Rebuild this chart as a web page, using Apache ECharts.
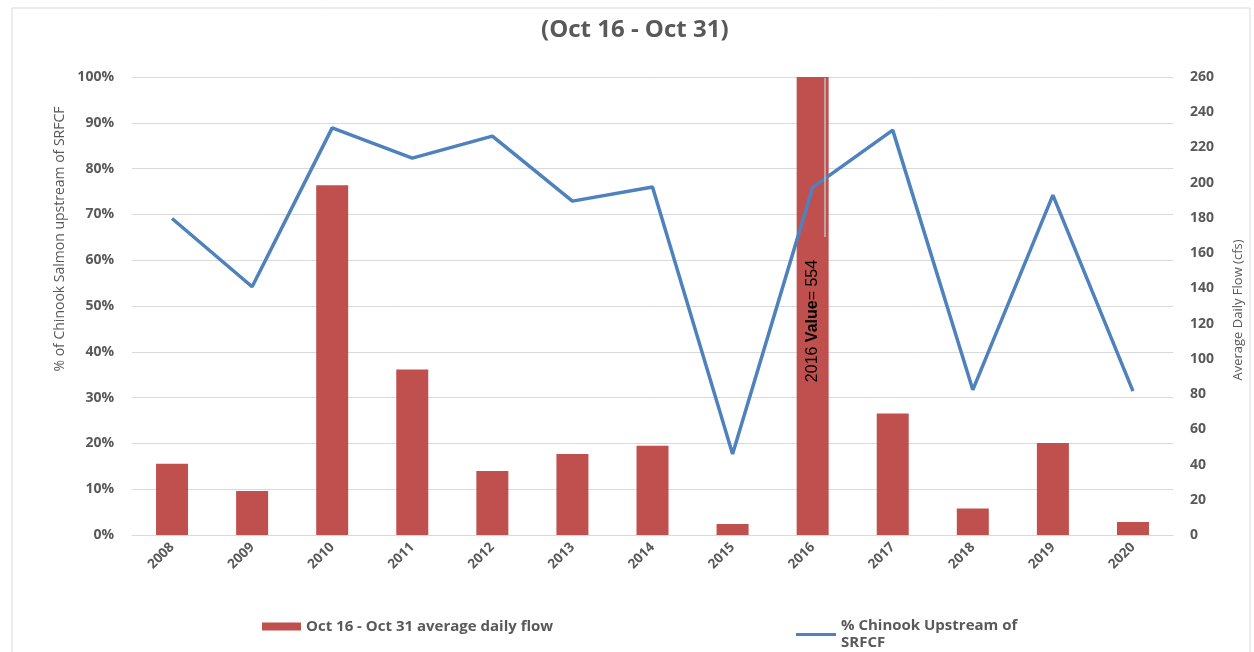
<!DOCTYPE html>
<html>
<head>
<meta charset="utf-8">
<script src="https://cdn.jsdelivr.net/npm/echarts@6/dist/echarts.min.js"></script>
<style>
  html, body { margin: 0; padding: 0; background: #fff; }
  #chart { width: 1254px; height: 652px; }
</style>
</head>
<body>
<div id="chart"></div>
<script>
// data
const years = ['2008', '2009', '2010', '2011', '2012', '2013', '2014', '2015', '2016', '2017', '2018', '2019', '2020']
const flow = [40.5, 25, 198.5, 94, 36.3, 46, 50.7, 6.2, 554, 69, 15, 52.2, 7.4]
const pctChinook = [69.1, 54.2, 88.9, 82.3, 87.1, 72.9, 76, 17.7, 75.9, 88.4, 31.7, 74.2, 31.4]
const flowName = 'Oct 16 - Oct 31 average daily flow'
const pctName = '% Chinook Upstream of SRFCF'

const gray = '#595959'
const gridGray = '#d9d9d9'
const font = '"Open Sans", "Liberation Sans", sans-serif'
const narrow = '"Liberation Sans Narrow", "Liberation Sans", sans-serif'

const chart = echarts.init(document.getElementById('chart'))

chart.setOption({
  animation: false,
  backgroundColor: '#fff',
  title: {
    text: '(Oct 16 - Oct 31)',
    left: 541,
    top: 18,
    padding: 0,
    textStyle: { color: gray, fontSize: 24, fontWeight: 'bold', fontFamily: font }
  },
  grid: { left: 132, right: 81, top: 77, bottom: 117 },
  legend: [
    {
      data: [flowName],
      left: 262,
      top: 619,
      padding: 0,
      icon: 'rect',
      itemWidth: 39,
      itemHeight: 8,
      itemGap: 5,
      textStyle: { color: gray, fontSize: 15, fontWeight: 'bold', fontFamily: font }
    },
    {
      data: [pctName],
      left: 796,
      top: 609,
      padding: 0,
      icon: 'rect',
      itemWidth: 40,
      itemHeight: 3,
      formatter: name => name.replace(' SRFCF', '\nSRFCF'),
      textStyle: {
        color: gray, fontSize: 15, fontWeight: 'bold', fontFamily: font,
        lineHeight: 17, padding: [17, 0, 0, 0]
      }
    }
  ],
  xAxis: {
    type: 'category',
    data: years,
    axisLine: { lineStyle: { color: gridGray } },
    axisTick: { show: false },
    axisLabel: {
      rotate: 45,
      color: gray,
      fontSize: 13.5,
      fontWeight: 'bold',
      fontFamily: font,
      margin: 10
    }
  },
  yAxis: [
    {
      type: 'value',
      min: 0,
      max: 100,
      interval: 10,
      axisLine: { show: false },
      axisTick: { show: false },
      splitLine: { lineStyle: { color: gridGray } },
      axisLabel: {
        formatter: '{value}%',
        color: gray,
        fontSize: 14,
        fontWeight: 'bold',
        fontFamily: font,
        margin: 18
      }
    },
    {
      type: 'value',
      min: 0,
      max: 260,
      interval: 20,
      axisLine: { show: false },
      axisTick: { show: false },
      splitLine: { show: false },
      axisLabel: {
        color: gray,
        fontSize: 14,
        fontWeight: 'bold',
        fontFamily: font,
        margin: 17
      }
    }
  ],
  series: [
    {
      name: flowName,
      type: 'bar',
      yAxisIndex: 1,
      data: flow,
      barWidth: 32,
      itemStyle: { color: '#c0504d' }
    },
    {
      name: pctName,
      type: 'line',
      yAxisIndex: 0,
      data: pctChinook,
      symbol: 'none',
      z: 5,
      itemStyle: { color: '#4f81bd' },
      lineStyle: { color: '#4f81bd', width: 3.5 }
    }
  ],
  graphic: [
    {
      type: 'rect',
      z: -1,
      shape: { x: 12, y: 8, width: 1238, height: 660 },
      style: { fill: 'none', stroke: gridGray, lineWidth: 1 }
    },
    {
      type: 'text',
      x: 60,
      y: 239,
      rotation: Math.PI / 2,
      style: {
        text: '% of Chinook Salmon upstream of SRFCF',
        fill: gray,
        font: '14px ' + font,
        align: 'center',
        verticalAlign: 'middle'
      }
    },
    {
      type: 'text',
      x: 1238,
      y: 310,
      rotation: Math.PI / 2,
      style: {
        text: 'Average Daily Flow (cfs)',
        fill: gray,
        font: '13px ' + font,
        align: 'center',
        verticalAlign: 'middle'
      }
    },
    {
      type: 'line',
      z: 100,
      shape: { x1: 825, y1: 78, x2: 825, y2: 237 },
      style: { stroke: '#bfbfbf', lineWidth: 1.5 }
    },
    {
      type: 'text',
      z: 100,
      x: 813,
      y: 321,
      rotation: Math.PI / 2,
      style: {
        text: '{n|2016 }{b|Value}{n|= 554}',
        align: 'center',
        verticalAlign: 'middle',
        rich: {
          n: { fill: '#000', fontSize: 16, fontFamily: narrow },
          b: { fill: '#000', fontSize: 16, fontWeight: 'bold', fontFamily: narrow }
        }
      }
    }
  ]
})
</script>
</body>
</html>
